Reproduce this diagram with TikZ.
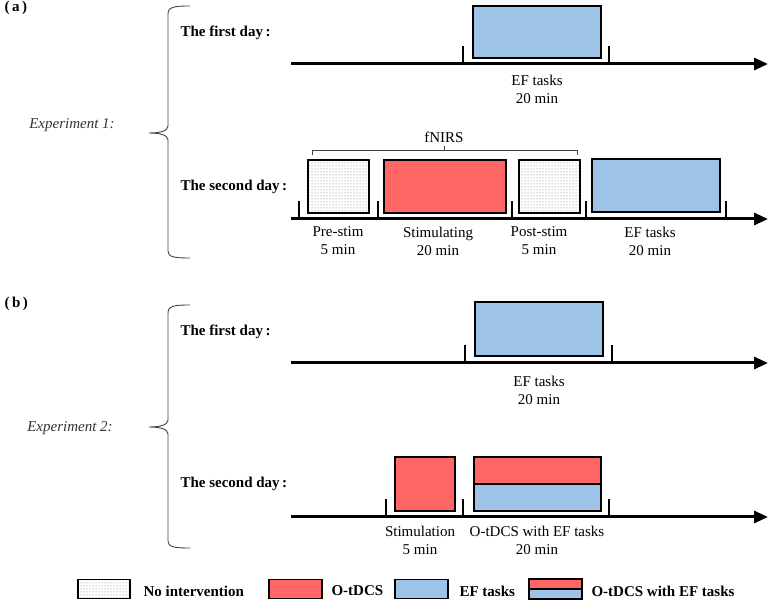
\documentclass[tikz,border=0pt]{standalone}
\usepackage{fontspec}
\setmainfont{Liberation Serif}
\usetikzlibrary{arrows.meta,patterns}
\definecolor{stimred}{HTML}{FF6666}
\definecolor{taskblue}{HTML}{9DC3E6}

\begin{document}
\begin{tikzpicture}[x=1pt,y=-1pt,
    font=\fontsize{15}{18}\selectfont,
    timeline/.style={line width=3pt,-{Triangle[length=14pt,width=12pt]}},
    tickmark/.style={line width=2.5pt},
    period/.style={draw=black,line width=1.2pt,inner sep=0pt},
    restbox/.style={period,pattern=dots,pattern color=black!55},
    stimbox/.style={period,fill=stimred},
    taskbox/.style={period,fill=taskblue},
    daylabel/.style={anchor=west,font=\fontsize{15}{18}\selectfont\bfseries},
    timelabel/.style={align=center},
    exbrace/.style={line width=0.9pt,draw=black!75},
    exlabel/.style={font=\fontsize{15}{18}\selectfont\itshape,text=black!80}]
    \useasboundingbox (0,0) rectangle (769,601);

    % (a) Experiment 1
    \node[anchor=west,font=\fontsize{15}{18}\selectfont\bfseries] (pa) at (1,8) {(\,a\,)};
    \draw[exbrace] (190,6) .. controls (174,6) and (168,7) .. (168,14) -- (168,126)
        .. controls (168,131) and (160,133) .. (149,133)
        .. controls (160,133) and (168,135) .. (168,140) -- (168,251)
        .. controls (168,257) and (174,258) .. (190,258);
    \node[exlabel] (exp1) at (72,125) {Experiment 1:};
    \node[daylabel] (a1day) at (177,33) {The first day\,:};
    \node[daylabel] (a2day) at (177,187) {The second day\,:};

    \coordinate (a1start) at (291,64);
    \coordinate (a1end) at (768,64);
    \draw[timeline] (a1start) -- (a1end);
    \draw[tickmark] (463,64) -- (463,46);
    \draw[tickmark] (609,64) -- (609,46);
    \node[taskbox,minimum width=128pt,minimum height=52pt] (a1task) at (537,32) {};
    \node[timelabel] (a1tasklab) at (537,89) {EF tasks\\20 min};

    \coordinate (a2start) at (291,219);
    \coordinate (a2end) at (768,219);
    \draw[timeline] (a2start) -- (a2end);
    \foreach \x in {299,378,512,586,726}
        \draw[tickmark] (\x,219) -- (\x,201);
    \node[restbox,minimum width=61pt,minimum height=53pt] (a2pre) at (338.5,186.5) {};
    \node[stimbox,minimum width=122pt,minimum height=53pt] (a2stim) at (445,186.5) {};
    \node[restbox,minimum width=61pt,minimum height=53pt] (a2post) at (549.5,186.5) {};
    \node[taskbox,minimum width=128pt,minimum height=53pt] (a2task) at (656,185.5) {};
    \node[timelabel] (a2prelab) at (338,241) {Pre-stim\\5 min};
    \node[timelabel] (a2stimlab) at (438,241) {Stimulating\\20 min};
    \node[timelabel] (a2postlab) at (539,241) {Post-stim\\5 min};
    \node[timelabel] (a2tasklab) at (650,241) {EF tasks\\20 min};
    \draw[black!75,line width=0.6pt] (312,155) -- (312,150) -- (577,150) -- (577,155);
    \draw[black!75,line width=0.6pt] (444,150) -- (444,146);
    \node (fnirs) at (444,137) {fNIRS};

    % (b) Experiment 2
    \node[anchor=west,font=\fontsize{15}{18}\selectfont\bfseries] (pb) at (1,304) {(\,b\,)};
    \draw[exbrace] (190,305) .. controls (174,305) and (168,306) .. (168,313) -- (168,420)
        .. controls (168,425) and (160,427) .. (149,427)
        .. controls (160,427) and (168,429) .. (168,434) -- (168,541)
        .. controls (168,547) and (174,548) .. (190,548);
    \node[exlabel] (exp2) at (70,428) {Experiment 2:};
    \node[daylabel] (b1day) at (177,332) {The first day\,:};
    \node[daylabel] (b2day) at (177,484) {The second day\,:};

    \coordinate (b1start) at (291,363);
    \coordinate (b1end) at (768,363);
    \draw[timeline] (b1start) -- (b1end);
    \draw[tickmark] (465,363) -- (465,345);
    \draw[tickmark] (612,363) -- (612,345);
    \node[taskbox,minimum width=128pt,minimum height=54pt] (b1task) at (539,329) {};
    \node[timelabel] (b1tasklab) at (539,390) {EF tasks\\20 min};

    \coordinate (b2start) at (291,517);
    \coordinate (b2end) at (768,517);
    \draw[timeline] (b2start) -- (b2end);
    \foreach \x in {386,463,609}
        \draw[tickmark] (\x,517) -- (\x,499);
    \node[stimbox,minimum width=60pt,minimum height=54pt] (b2stim) at (425,484) {};
    \node[stimbox,minimum width=127pt,minimum height=27pt] (b2both) at (537.5,470.5) {};
    \node[taskbox,minimum width=127pt,minimum height=27pt] (b2task) at (537.5,497.5) {};
    \node[timelabel] (b2stimlab) at (420,540) {Stimulation\\5 min};
    \node[timelabel] (b2bothlab) at (537,540) {O-tDCS with EF tasks\\20 min};

    % legend
    \node[restbox,minimum width=52pt,minimum height=19pt] (legrest) at (104,589) {};
    \node[anchor=west,font=\fontsize{15}{18}\selectfont\bfseries] (legresttxt) at (140,591) {No intervention};
    \node[stimbox,minimum width=53pt,minimum height=19pt] (legstim) at (295.5,589) {};
    \node[anchor=west,font=\fontsize{15}{18}\selectfont\bfseries] (legstimtxt) at (328,591) {O-tDCS};
    \node[taskbox,minimum width=53pt,minimum height=19pt] (legtask) at (421.5,589) {};
    \node[anchor=west,font=\fontsize{15}{18}\selectfont\bfseries] (legtasktxt) at (456,591) {EF tasks};
    \node[stimbox,minimum width=53pt,minimum height=10pt] (legboth) at (555.5,584) {};
    \node[taskbox,minimum width=53pt,minimum height=10pt] (legboth2) at (555.5,594) {};
    \node[anchor=west,font=\fontsize{15}{18}\selectfont\bfseries] (legbothtxt) at (588,591) {O-tDCS with EF tasks};
\end{tikzpicture}
\end{document}
